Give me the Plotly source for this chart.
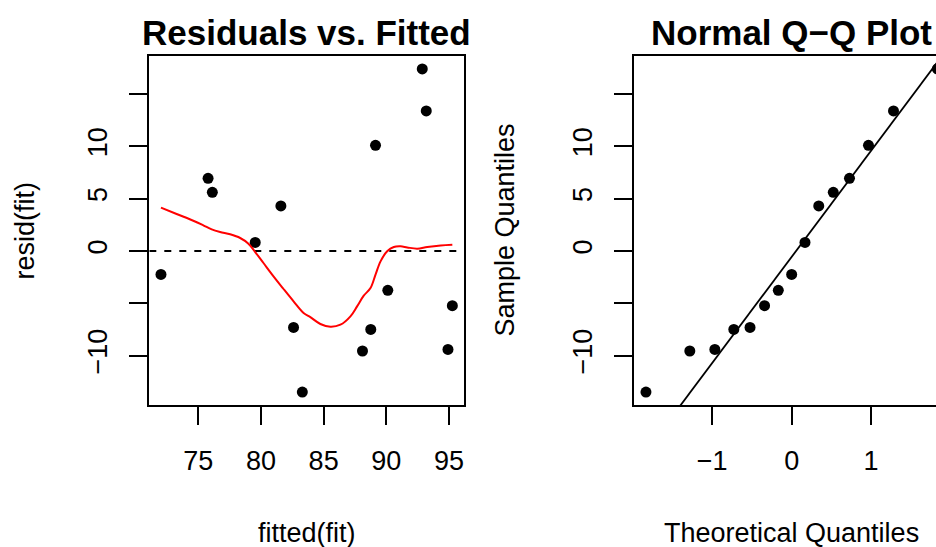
import numpy as np
import plotly.graph_objects as go

# ---------------- data ----------------
fitted = [72.02, 75.78, 76.12, 79.54, 81.59, 82.60, 83.30, 88.10, 88.76, 89.14,
          90.12, 92.87, 93.19, 94.92, 95.27]
resid = [-2.24, 6.94, 5.60, 0.82, 4.30, -7.30, -13.47, -9.55, -7.49, 10.09,
         -3.76, 17.38, 13.37, -9.40, -5.22]

smooth_x = [72.02, 73.27, 74.60, 75.40, 76.07, 76.74, 77.54, 78.34, 79.00, 79.54,
            80.20, 81.00, 81.80, 82.60, 83.40, 83.94, 84.74, 85.54, 86.34, 87.14,
            87.67, 88.20, 88.74, 89.14, 89.54, 90.07, 90.60, 91.14, 91.67, 92.47,
            93.27, 94.34, 95.27]
smooth_y = [4.14, 3.53, 2.89, 2.45, 2.06, 1.81, 1.59, 1.24, 0.70, -0.10,
            -1.15, -2.42, -3.63, -4.81, -5.92, -6.32, -6.97, -7.23, -7.04, -6.24,
            -5.29, -4.27, -3.54, -2.26, -0.99, -0.03, 0.38, 0.44, 0.34, 0.22,
            0.38, 0.53, 0.60]

theoretical_q = [-1.834, -1.282, -0.967, -0.728, -0.524, -0.341, -0.168, 0.0,
                 0.168, 0.341, 0.524, 0.728, 0.967, 1.282, 1.834]
sample_q = sorted(resid)
z_quartile = 0.6745

x1_ticks = [75, 80, 85, 90, 95]
x1_ticktext = ["75", "80", "85", "90", "95"]
y_ticks = [-10, -5, 0, 5, 10, 15]
y_ticktext = ["\u221210", "", "0", "5", "10", ""]
x2_ticks = [-1, 0, 1, 2]
x2_ticktext = ["\u22121", "0", "1", "2"]

# ---------------- geometry ----------------
W, H = 936, 547
FONT = "Liberation Sans, Arial, Helvetica, sans-serif"
px_l0, px_l1 = 149.3, 464.0
px_r0 = 634.3
px_top, px_bot = 56.0, 405.0


def pad(lo, hi, f=0.04):
    d = (hi - lo) * f
    return [lo - d, hi + d]


xr1 = pad(min(fitted), max(fitted))
yr = pad(min(resid), max(resid))
xr2_full = pad(min(theoretical_q), max(theoretical_q))
panel_w = px_l1 - px_l0
xr2 = [xr2_full[0], xr2_full[0] + (W - px_r0) / panel_w * (xr2_full[1] - xr2_full[0])]

# qq line through quartiles
q1, q3 = np.percentile(resid, [25, 75])
slope = (q3 - q1) / (2 * z_quartile)
intercept = q1 + z_quartile * slope
line_x = [-3, 3]
line_y = [intercept + slope * v for v in line_x]

fig = go.Figure()

fig.add_trace(go.Scatter(x=[xr1[0], xr1[1]], y=[0, 0], mode="lines",
                         line=dict(color="black", width=1.8, dash="7px,8px"),
                         xaxis="x", yaxis="y", hoverinfo="skip"))
fig.add_trace(go.Scatter(x=fitted, y=resid, mode="markers",
                         marker=dict(color="black", size=11),
                         xaxis="x", yaxis="y"))
fig.add_trace(go.Scatter(x=smooth_x, y=smooth_y, mode="lines",
                         line=dict(color="#ff0000", width=2, shape="spline"),
                         xaxis="x", yaxis="y"))

fig.add_trace(go.Scatter(x=line_x, y=line_y, mode="lines",
                         line=dict(color="black", width=1.8),
                         xaxis="x2", yaxis="y2"))
fig.add_trace(go.Scatter(x=theoretical_q, y=sample_q, mode="markers",
                         marker=dict(color="black", size=11),
                         xaxis="x2", yaxis="y2"))

ydom = [1 - px_bot / H, 1 - px_top / H]
tickfont = dict(family=FONT, size=27, color="black")
common_axis = dict(showgrid=False, zeroline=False, showline=True, linecolor="black",
                   linewidth=2, ticks="outside", ticklen=18, tickwidth=1.7,
                   tickcolor="black", tickfont=tickfont)

fig.update_layout(
    width=W, height=H, margin=dict(l=0, r=0, t=0, b=0),
    paper_bgcolor="white", plot_bgcolor="white", showlegend=False,
    xaxis=dict(domain=[px_l0 / W, px_l1 / W], range=xr1, anchor="y",
               tickvals=x1_ticks, ticktext=x1_ticktext, mirror=True,
               ticklabelstandoff=13, **common_axis),
    yaxis=dict(domain=ydom, range=yr, anchor="x",
               tickvals=y_ticks, ticktext=y_ticktext, mirror=True, tickangle=-90,
               ticklabelstandoff=12, **common_axis),
    xaxis2=dict(domain=[px_r0 / W, 1.0], range=xr2, anchor="y2",
                tickvals=x2_ticks, ticktext=x2_ticktext, mirror=True,
                ticklabelstandoff=13, **common_axis),
    yaxis2=dict(domain=ydom, range=yr, anchor="x2",
                tickvals=y_ticks, ticktext=y_ticktext, mirror=False, tickangle=-90,
                ticklabelstandoff=12, **common_axis),
)

def ann(text, xpx, ypx, size, bold=False, angle=0):
    fig.add_annotation(text=f"<b>{text}</b>" if bold else text,
                       x=xpx / W, y=1 - ypx / H, xref="paper", yref="paper",
                       xanchor="center", yanchor="middle", showarrow=False,
                       textangle=angle,
                       font=dict(family=FONT, size=size, color="black"))

cx_l = (px_l0 + px_l1) / 2
cx_r = px_r0 + panel_w / 2
cy = (px_top + px_bot) / 2
ann("Residuals vs. Fitted", cx_l, 33, 35, bold=True)
ann("Normal Q\u2212Q Plot", cx_r, 33, 35, bold=True)
ann("fitted(fit)", cx_l, 533, 27)
ann("Theoretical Quantiles", cx_r, 533, 27)
ann("resid(fit)", 24, cy, 27, angle=-90)
ann("Sample Quantiles", 504, cy, 27, angle=-90)

fig.write_html("out.html", config={"displayModeBar": False},
               post_script="document.body.style.margin='0';document.body.style.overflow='hidden';")
